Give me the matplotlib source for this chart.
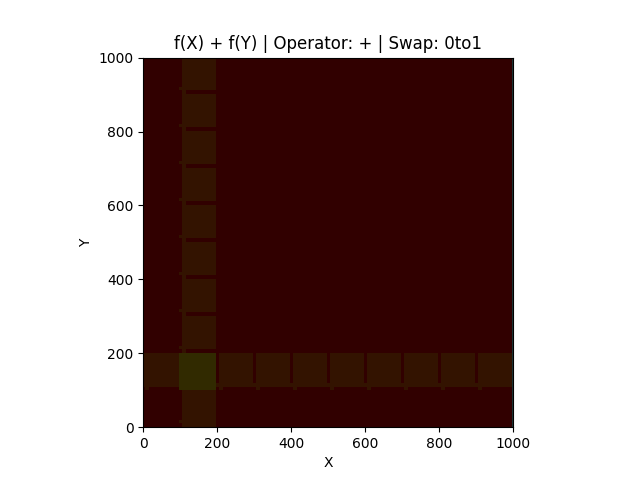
import matplotlib
matplotlib.use("Agg")
import matplotlib.pyplot as plt
import numpy as np
from matplotlib.colors import ListedColormap

# grid size and the bands where f() is non-zero (data units)
size = 1000
band = (105, 196)          # band along each axis
band_edge = (97, 105)      # little notches on the low side of the band
hundreds = [0, 2, 3, 4, 5, 6, 7, 8, 9]
gap_hundreds = [2, 3, 4, 5, 6, 7, 8, 9]
gap_offset = (1, 10)       # dark gap across the band after each hundred
notch_offset = (10, 19)    # notch just after the gap
gap_start = 116            # gaps start this far into the band
edge_col = (997, 1000)     # last columns

# colours: background, band, overlap, last column
colors = ["#310000", "#331300", "#312a00", "#1c3434"]

z = np.zeros((size, size), dtype=int)
lo, hi = band

# vertical band f(X)
z[:, lo:hi] = 1
# horizontal band f(Y)
z[lo + 4:hi + 4, :] = 1

for k in hundreds:
    # vertical band notches on the left
    z[k * 100 + notch_offset[0]:k * 100 + notch_offset[1], band_edge[0]:band_edge[1]] = 1
    # horizontal band notches underneath
    z[100:lo + 4, k * 100 + 5:k * 100 + 16] = 1

for k in gap_hundreds:
    z[k * 100 + gap_offset[0]:k * 100 + gap_offset[1], gap_start:hi] = 0
    z[gap_start + 4:hi + 4, k * 100 - 3:k * 100 + 5] = 0

# overlap of both bands
z[100:200, band_edge[0]:hi] = 2
z[:, edge_col[0]:edge_col[1]] = 3

fig, ax = plt.subplots(figsize=(6.4, 4.8), dpi=100)
ax.imshow(z, cmap=ListedColormap(colors), vmin=-0.5, vmax=3.5, origin="lower",
          extent=(0, size, 0, size), interpolation="nearest")
ax.set_title("f(X) + f(Y) | Operator: + | Swap: 0to1")
ax.set_xlabel("X")
ax.set_ylabel("Y")
fig.savefig("out.png")
